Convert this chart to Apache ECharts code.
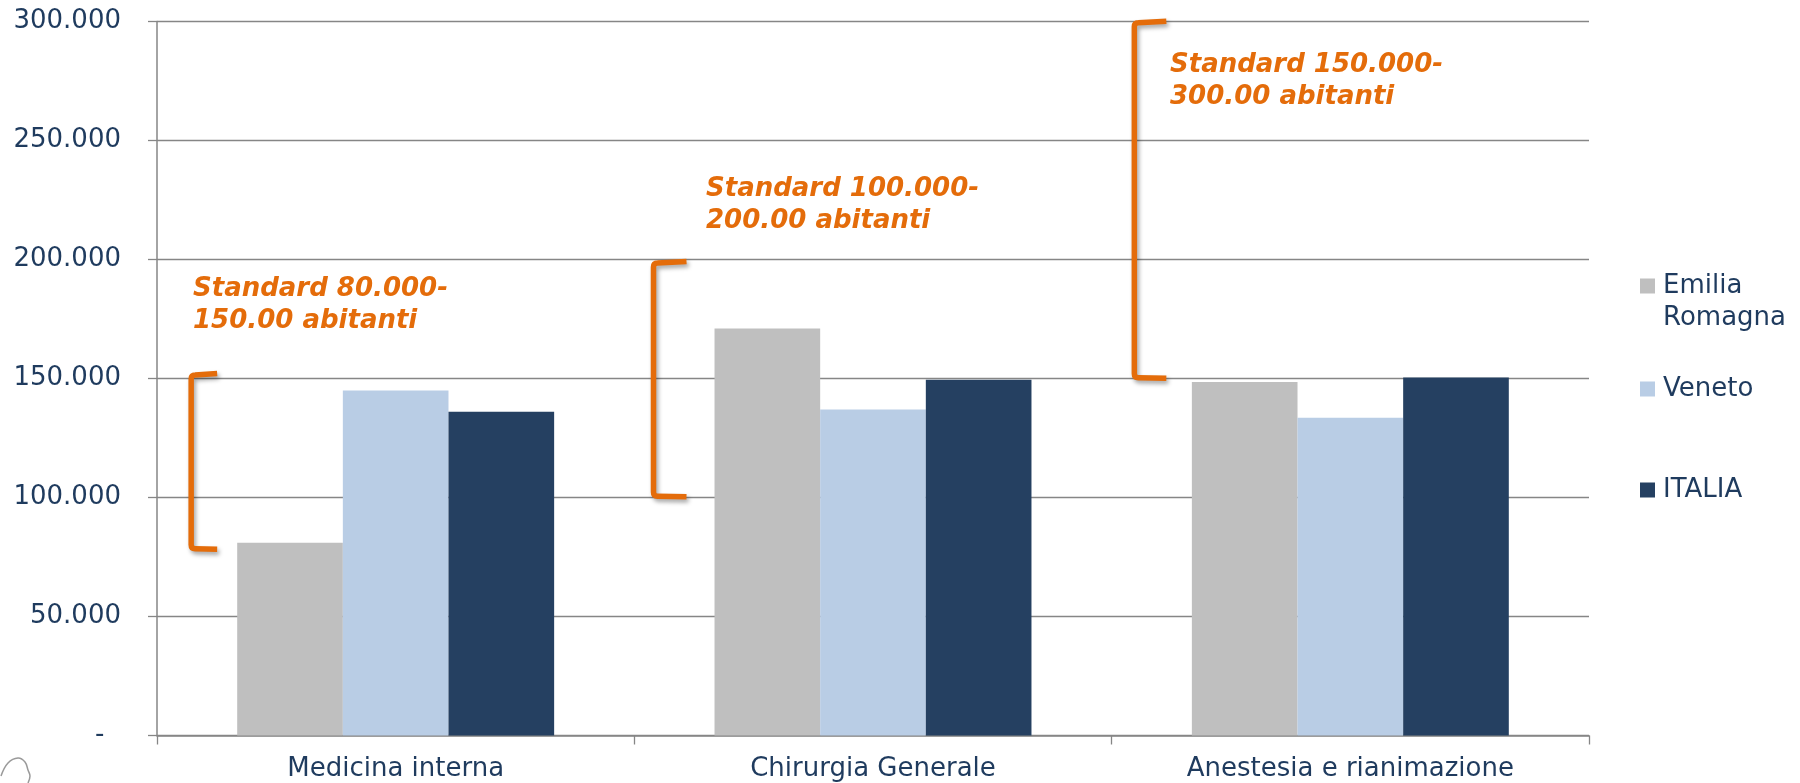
<!DOCTYPE html>
<html>
<head>
<meta charset="utf-8">
<script src="https://cdn.jsdelivr.net/npm/echarts@6/dist/echarts.min.js"></script>
<style>
html,body{margin:0;padding:0;background:#fff;}
#chart{width:1800px;height:783px;}
</style>
</head>
<body>
<div id="chart"></div>
<script>
// ---- data ----
const categories = ['Medicina interna', 'Chirurgia Generale', 'Anestesia e rianimazione'];
const seriesNames = ['Emilia Romagna', 'Veneto', 'ITALIA'];
const emiliaRomagna = [81000, 171000, 148500];
const veneto = [145000, 137000, 133500];
const italia = [136000, 149500, 150400];
const bracketLow = [78500, 100500, 150300];
const bracketHigh = [151500, 198500, 299500];
const annotationTexts = [
  'Standard 80.000-\n150.00 abitanti',
  'Standard 100.000-\n200.00 abitanti',
  'Standard 150.000-\n300.00 abitanti'
];
const yTicks = { min: 0, max: 300000, interval: 50000 };

// ---- styles ----
const COLORS = ['#BFBFBF', '#B9CDE5', '#254061'];
const TEXT_COLOR = '#1F3B5E';
const ORANGE = '#E46C0A';
const AXIS_COLOR = '#868686';
const FONT = '"DejaVu Sans", Verdana, sans-serif';
const BRACKET_DX = [-204.5, -219.5, -216];
const HOOK_W = [26, 33, 32];
const ANNOT_POS = [[193, 273], [706, 173], [1170, 49]];

function fmt(v) {
  if (v === 0) return '-  ';
  return String(v).replace(/\B(?=(\d{3})+(?!\d))/g, '.');
}

const chart = echarts.init(document.getElementById('chart'), null, { renderer: 'canvas' });

const values = [emiliaRomagna, veneto, italia];
const barSeries = seriesNames.map((n, i) => ({
  name: n,
  type: 'bar',
  data: values[i],
  barGap: '0%',
  barCategoryGap: '33.6%',
  itemStyle: { color: COLORS[i] },
  silent: true,
  z: 2
}));

const bracketData = categories.map((c, i) => [i, bracketLow[i], bracketHigh[i]]);

const legendTops = [238, 373, 474];
const legends = seriesNames.map((n, i) => ({
  data: [n],
  orient: 'vertical',
  left: 1640,
  top: legendTops[i],
  padding: 0,
  itemWidth: 15,
  itemHeight: 15,
  icon: 'rect',
  selectedMode: false,
  formatter: (name) => name === 'Emilia Romagna' ? '\nEmilia\nRomagna' : name,
  textStyle: {
    color: TEXT_COLOR,
    fontFamily: FONT,
    fontSize: 26,
    lineHeight: 32,
    padding: [0, 0, 0, 3]
  }
}));

const option = {
  backgroundColor: '#ffffff',
  animation: false,
  grid: { left: 157, right: 211, top: 21.5, bottom: 47.5, containLabel: false },
  legend: legends,
  xAxis: {
    type: 'category',
    data: categories,
    boundaryGap: true,
    axisLine: { show: true, lineStyle: { color: AXIS_COLOR, width: 1.5 } },
    axisTick: { show: true, alignWithLabel: false, length: 9, lineStyle: { color: AXIS_COLOR, width: 1.3 } },
    axisLabel: { color: TEXT_COLOR, fontFamily: FONT, fontSize: 26, margin: 21 },
    splitLine: { show: false }
  },
  yAxis: {
    type: 'value',
    min: yTicks.min,
    max: yTicks.max,
    interval: yTicks.interval,
    axisLine: { show: true, lineStyle: { color: AXIS_COLOR, width: 1.5 } },
    axisTick: { show: true, length: 9, lineStyle: { color: AXIS_COLOR, width: 1.3 } },
    axisLabel: { color: TEXT_COLOR, fontFamily: FONT, fontSize: 26, margin: 36, formatter: fmt },
    splitLine: { show: true, lineStyle: { color: AXIS_COLOR, width: 1.3 } }
  },
  series: barSeries.concat([{
    type: 'custom',
    name: 'brackets',
    silent: true,
    z: 5,
    data: bracketData,
    encode: { x: 0, y: [1, 2] },
    renderItem: function (params, api) {
      const idx = api.value(0);
      const pTop = api.coord([idx, api.value(2)]);
      const pBot = api.coord([idx, api.value(1)]);
      const x = pTop[0] + BRACKET_DX[idx];
      const w = HOOK_W[idx];
      const yt = pTop[1], yb = pBot[1], r = 4;
      const d = 'M ' + (x + w) + ' ' + (yt - 1.5) +
        ' L ' + (x + r) + ' ' + yt +
        ' Q ' + x + ' ' + yt + ' ' + x + ' ' + (yt + r) +
        ' L ' + x + ' ' + (yb - r) +
        ' Q ' + x + ' ' + yb + ' ' + (x + r) + ' ' + yb +
        ' L ' + (x + w) + ' ' + (yb + 0.5);
      return {
        type: 'path',
        shape: { pathData: d },
        style: {
          stroke: ORANGE,
          lineWidth: 5.5,
          fill: null,
          lineCap: 'butt',
          lineJoin: 'round',
          shadowColor: 'rgba(0,0,0,0.35)',
          shadowBlur: 4,
          shadowOffsetX: 2,
          shadowOffsetY: 3
        }
      };
    }
  }]),
  graphic: annotationTexts.map((t, i) => ({
    type: 'text',
    x: ANNOT_POS[i][0],
    y: ANNOT_POS[i][1],
    silent: true,
    z: 10,
    style: {
      text: t,
      font: 'italic bold 26px ' + FONT,
      fill: ORANGE,
      lineHeight: 32,
      verticalAlign: 'top',
      align: 'left'
    }
  })).concat([{
    type: 'polyline',
    silent: true,
    shape: { points: [[1, 776], [8, 763], [18, 758], [25, 762], [28, 770], [30, 776], [28, 783]], smooth: 0.4 },
    style: { stroke: '#9A9A9A', lineWidth: 1.5, fill: null }
  }])
};

chart.setOption(option);
</script>
</body>
</html>
